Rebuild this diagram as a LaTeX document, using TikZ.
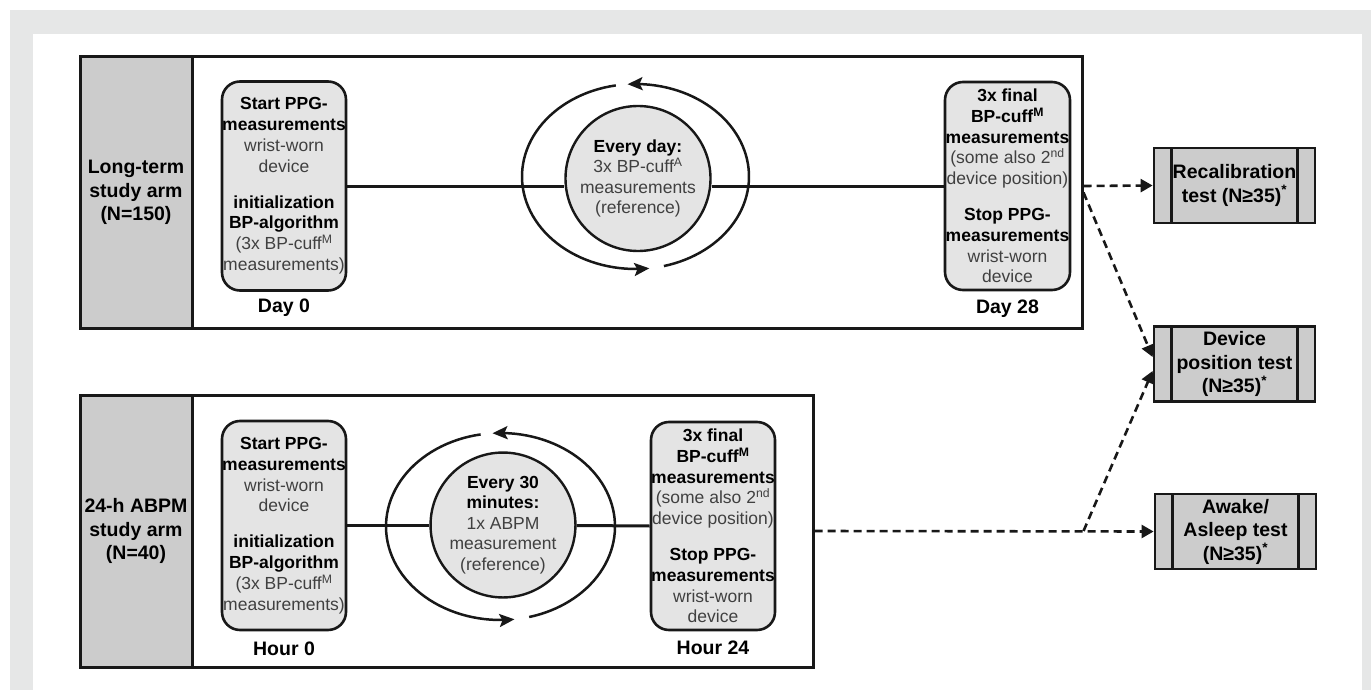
\documentclass[tikz,border=0pt]{standalone}
\usepackage{fontspec}
\setmainfont{Liberation Sans}
\usetikzlibrary{arrows.meta}

\definecolor{framegray}{RGB}{230,231,231}
\definecolor{armgray}{RGB}{204,204,204}
\definecolor{boxgray}{RGB}{228,228,228}
\definecolor{txtgray}{RGB}{64,64,64}
\definecolor{linedark}{RGB}{24,24,24}
\newcommand{\regtxt}[1]{\textcolor{txtgray}{#1}}

\begin{document}
\begin{tikzpicture}[x=1pt,y=-1pt,
  armframe/.style={draw=linedark,line width=3pt,inner sep=0pt},
  armlabel/.style={draw=linedark,line width=3pt,fill=armgray,minimum width=112pt,minimum height=271pt,inner sep=0pt,align=center,font=\fontsize{19.5}{23.5}\selectfont\bfseries},
  stepbox/.style={draw=linedark,line width=2.6pt,fill=boxgray,rounded corners=18pt,minimum width=124pt,minimum height=209pt,inner sep=0pt,align=center,font=\fontsize{17.5}{20.8}\selectfont},
  cyclenode/.style={circle,draw=linedark,line width=2.4pt,fill=boxgray,minimum size=145pt,inner sep=0pt,align=center,font=\fontsize{17.5}{20.6}\selectfont},
  timelabel/.style={inner sep=0pt,font=\fontsize{19.5}{23}\selectfont\bfseries},
  testbox/.style={draw=linedark,line width=2.8pt,fill=armgray,minimum width=161pt,minimum height=75pt,inner sep=0pt,align=center,font=\fontsize{19.5}{23.5}\selectfont\bfseries,
    path picture={\draw[line width=2.8pt,draw=linedark]
      ([xshift=17.5pt]path picture bounding box.north west) -- ([xshift=17.5pt]path picture bounding box.south west)
      ([xshift=-17.5pt]path picture bounding box.north east) -- ([xshift=-17.5pt]path picture bounding box.south east);}},
  link/.style={draw=linedark,line width=3pt},
  loopline/.style={draw=linedark,line width=2.5pt,-{Stealth[length=15pt,width=13pt,inset=3pt]}},
  dasharrow/.style={draw=linedark,line width=2.6pt,dash pattern=on 8pt off 5pt,-{Triangle[length=12pt,width=13pt]}}
]
 \useasboundingbox (0,0) rectangle (1371,690);
 \fill[white] (0,0) rectangle (1371,690);
 \fill[framegray] (10,10) rectangle (1371,690);
 \fill[white] (33,34) rectangle (1362,690);

 % long-term arm
 \node[armframe,minimum width=1002pt,minimum height=271pt] (ltframe) at (581,192.5) {};
 \node[armlabel] (ltlabel) at (136,192.5) {Long-term\\study arm\\(N=150)};
 \node[stepbox] (ltstart) at (284,186) {\textbf{Start PPG-}\\\textbf{measurements}\\\regtxt{wrist-worn}\\\regtxt{device}\\[15pt]
   \textbf{initialization}\\\textbf{BP-algorithm}\\\regtxt{(3x BP-cuff\textsuperscript{M}}\\\regtxt{measurements)}};
 \node[timelabel] (ltday0) at (284,308) {Day 0};
 \node[cyclenode] (ltcycle) at (638,178.5) {\textbf{Every day:}\\\regtxt{3x BP-cuff\textsuperscript{A}}\\\regtxt{measurements}\\\regtxt{(reference)}};
 \node[stepbox,minimum width=125pt,minimum height=208pt] (ltend) at (1007.5,186) {\textbf{3x final}\\\textbf{BP-cuff\textsuperscript{M}}\\\textbf{measurements}\\\regtxt{(some also 2\textsuperscript{nd}}\\\regtxt{device position)}\\[15pt]
   \textbf{Stop PPG-}\\\textbf{measurements}\\\regtxt{wrist-worn}\\\regtxt{device}};
 \node[timelabel] (ltday28) at (1007.5,309) {Day 28};

 % 24-h ABPM arm
 \node[armframe,minimum width=733pt,minimum height=272pt] (abframe) at (446.5,531) {};
 \node[armlabel,minimum height=272pt] (ablabel) at (136,531) {24-h ABPM\\study arm\\(N=40)};
 \node[stepbox] (abstart) at (284,525.5) {\textbf{Start PPG-}\\\textbf{measurements}\\\regtxt{wrist-worn}\\\regtxt{device}\\[15pt]
   \textbf{initialization}\\\textbf{BP-algorithm}\\\regtxt{(3x BP-cuff\textsuperscript{M}}\\\regtxt{measurements)}};
 \node[timelabel] (abhour0) at (284,649) {Hour 0};
 \node[cyclenode,minimum size=144pt] (abcycle) at (503,525) {\textbf{Every 30}\\\textbf{minutes:}\\\regtxt{1x ABPM}\\\regtxt{measurement}\\\regtxt{(reference)}};
 \node[stepbox,minimum height=208pt] (abend) at (713,526) {\textbf{3x final}\\\textbf{BP-cuff\textsuperscript{M}}\\\textbf{measurements}\\\regtxt{(some also 2\textsuperscript{nd}}\\\regtxt{device position)}\\[15pt]
   \textbf{Stop PPG-}\\\textbf{measurements}\\\regtxt{wrist-worn}\\\regtxt{device}};
 \node[timelabel] (abhour24) at (713,648) {Hour 24};

 % tests
 \node[testbox] (recal) at (1234.5,185.5) {Recalibration\\test (N≥35)\textsuperscript{*}};
 \node[testbox] (devpos) at (1234.5,364) {Device\\position test\\(N≥35)\textsuperscript{*}};
 \node[testbox] (awake) at (1235.5,531.5) {Awake/\\Asleep test\\(N≥35)\textsuperscript{*}};

 % time lines
 \draw[link] (ltstart.east) -- (ltstart.east -| ltcycle.west);
 \draw[link] (ltstart.east -| ltcycle.east) -- (ltend.west);
 \draw[link] (abstart.east) -- (abstart.east -| abcycle.west);
 \draw[link] (abstart.east -| abcycle.east) -- (abend.west);

 % repeat loops
 \foreach \cx/\cy/\rx/\ry in {635.5/176.5/113.5/92.5,500.5/526.5/114.5/93.5} {
   \draw[loopline] plot[domain=260:83,samples=60] ({\cx+\rx*cos(\x)},{\cy+\ry*sin(\x)});
   \draw[loopline] plot[domain=75.5:-94,samples=60] ({\cx+\rx*cos(\x)},{\cy+\ry*sin(\x)});
 }

 % to the tests
 \coordinate (absplit) at (ltframe.east |- abframe.east);
 \draw[dasharrow] (ltend.east -| ltframe.east) -- (recal.west);
 \draw[dasharrow] (ltframe.east) -- ([yshift=7pt]devpos.west);
 \draw[dasharrow] (abframe.east) -- (awake.west);
 \draw[dasharrow] (absplit) -- ([yshift=-7pt]devpos.west);
\end{tikzpicture}
\end{document}
